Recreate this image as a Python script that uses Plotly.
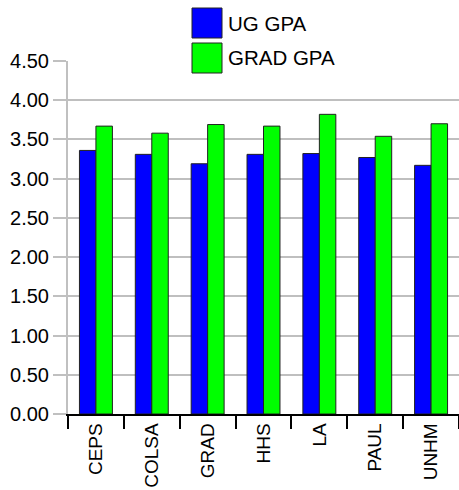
import plotly.graph_objects as go

categories = ["CEPS", "COLSA", "GRAD", "HHS", "LA", "PAUL", "UNHM"]
ug_gpa = [3.36, 3.31, 3.19, 3.31, 3.32, 3.27, 3.17]
grad_gpa = [3.67, 3.58, 3.69, 3.67, 3.82, 3.54, 3.70]
series_names = ["UG GPA", "GRAD GPA"]
series_colors = ["#0000FF", "#00FF00"]
y_ticks = [0, 0.5, 1, 1.5, 2, 2.5, 3, 3.5, 4, 4.5]
y_tick_labels = ["%.2f" % v for v in y_ticks]

W, H = 459, 490
ML, MR, MT, MB = 68, 0, 61, 76
PW, PH = W - ML - MR, H - MT - MB

def px(x):
    return (x - ML) / PW

def py(y):
    return (H - MB - y) / PH

fig = go.Figure()
for name, vals, col in zip(series_names, [ug_gpa, grad_gpa], series_colors):
    fig.add_trace(go.Bar(
        x=categories, y=vals, name=name, showlegend=False,
        marker=dict(color=col, line=dict(color="#222222", width=1)),
    ))

font = "Liberation Sans, Arial, sans-serif"
shapes = [
    dict(type="rect", xref="paper", yref="paper", x0=px(186), x1=px(350),
         y0=py(68), y1=py(54), fillcolor="white", line=dict(width=0), layer="above"),
]
annotations = []
for i, (name, col) in enumerate(zip(series_names, series_colors)):
    top = 8 + i * 35
    shapes.append(dict(type="rect", xref="paper", yref="paper",
                       x0=px(192), x1=px(222), y0=py(top + 30), y1=py(top),
                       fillcolor=col, line=dict(color="#222222", width=1), layer="above"))
    annotations.append(dict(text=name, xref="paper", yref="paper", x=px(226), y=py(top + 15),
                            xanchor="left", yanchor="middle", showarrow=False,
                            font=dict(family=font, size=20.5, color="black")))

fig.update_layout(
    width=W, height=H,
    margin=dict(l=ML, r=MR, t=MT, b=MB, pad=0),
    paper_bgcolor="white", plot_bgcolor="white",
    barmode="group", bargap=0.41, bargroupgap=0,
    shapes=shapes, annotations=annotations,
    font=dict(family=font, color="black"),
)
fig.update_xaxes(
    type="category", tickson="boundaries", ticks="outside", ticklen=13,
    tickcolor="black", tickwidth=1.5, showline=True, linecolor="black", linewidth=1.5,
    showgrid=False, tickangle=-90, tickfont=dict(size=19, family=font, color="black"),
)
fig.update_yaxes(
    range=[0, 4.5], tickvals=y_ticks, ticktext=y_tick_labels, ticks="outside",
    ticklen=13, tickcolor="#c0c0c0", tickwidth=2, showline=True, linecolor="#c0c0c0",
    linewidth=2, showgrid=True, gridcolor="#bfbfbf", gridwidth=2, zeroline=False,
    tickfont=dict(size=20, family=font, color="black"),
)
fig.write_html(
    "out.html",
    config={"displayModeBar": False},
    post_script="document.body.style.margin='0';document.body.style.overflow='hidden';",
)
